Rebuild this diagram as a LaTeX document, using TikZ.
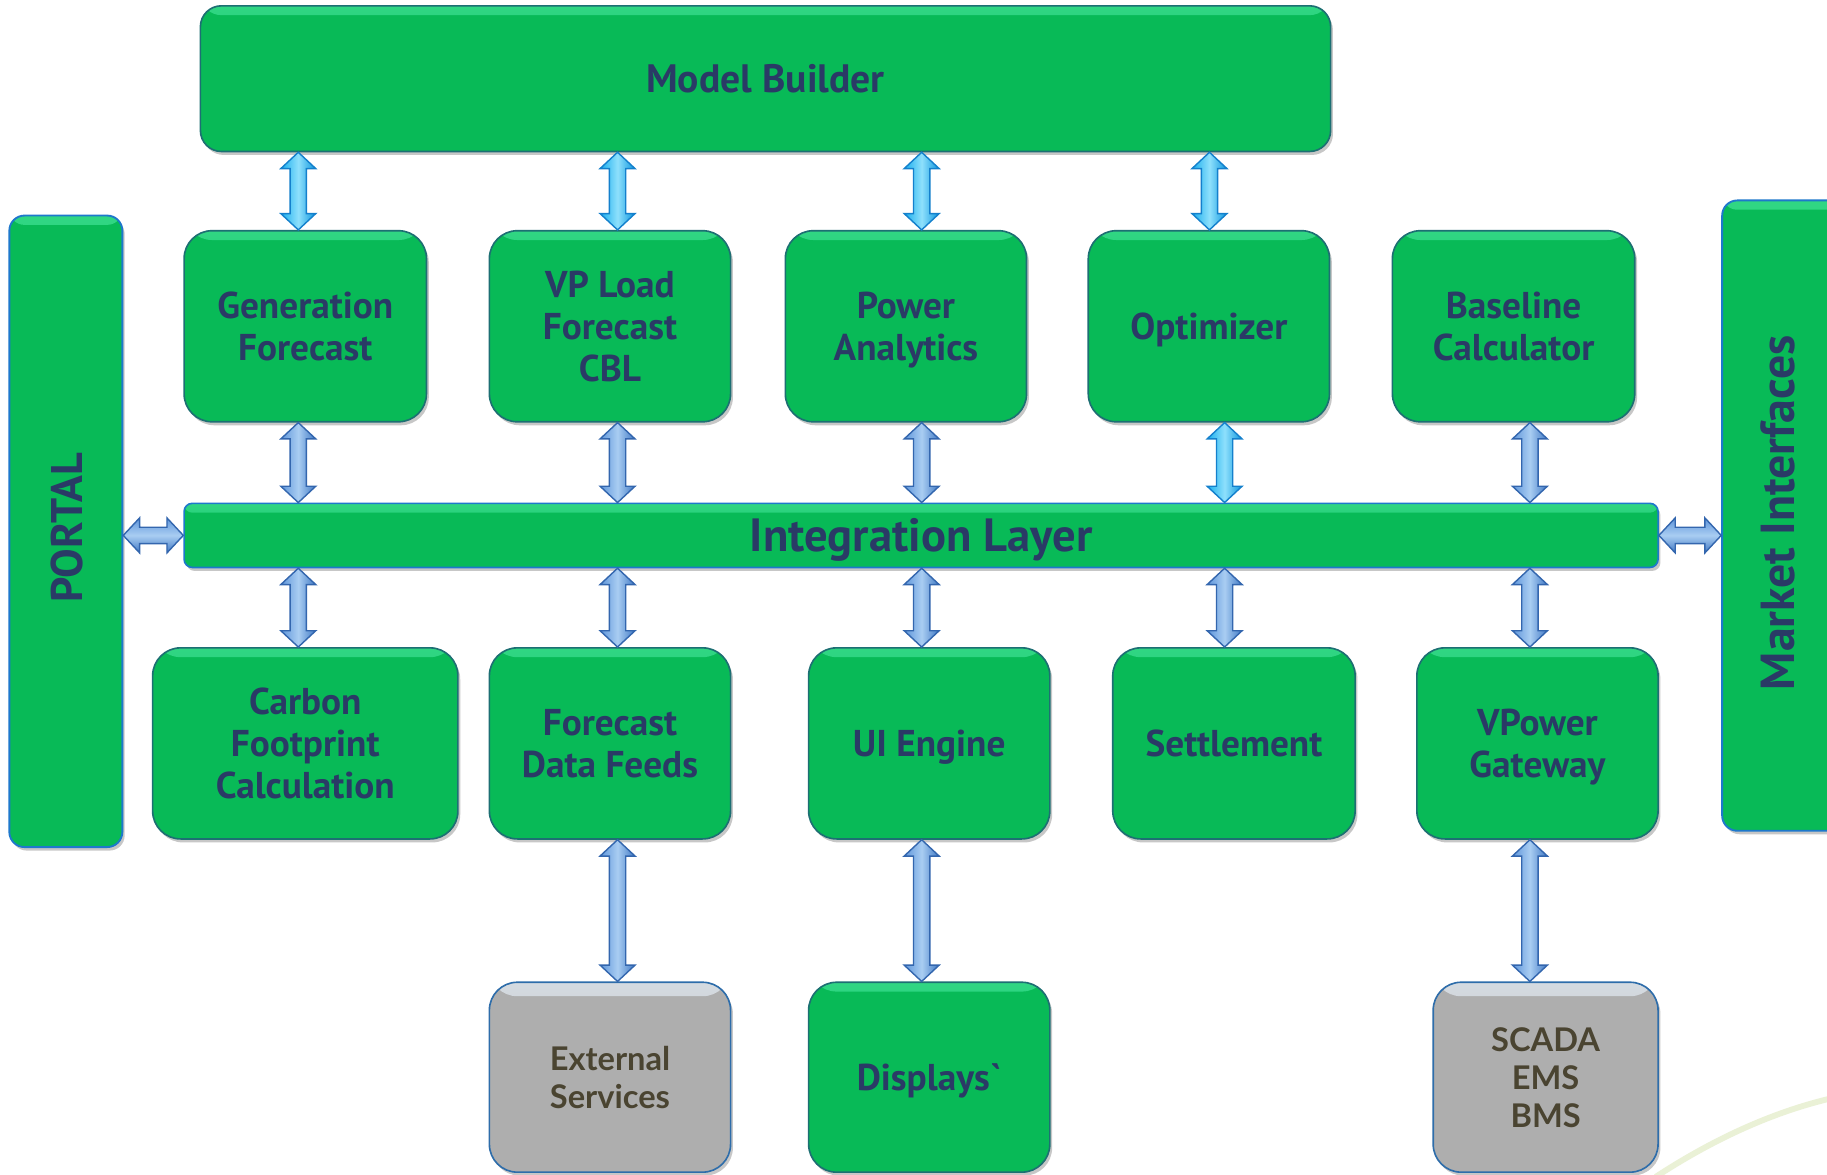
\documentclass[tikz,border=0pt]{standalone}
\usepackage{fontspec}
\usetikzlibrary{calc,shadows}
\newfontfamily\boxfont{PT Sans}
\newfontfamily\grayfont{Lato}
\definecolor{gfill}{HTML}{08BA57}
\definecolor{gborder}{HTML}{1D6F73}
\definecolor{ghl}{HTML}{30D683}
\definecolor{navy}{HTML}{2A3A66}
\definecolor{grayfill}{HTML}{AEAEAE}
\definecolor{grayborder}{HTML}{2E6DAA}
\definecolor{grayhl}{HTML}{D5DBE1}
\definecolor{graytext}{HTML}{4A4431}
\definecolor{sideborder}{HTML}{1E78CC}
\definecolor{cyanout}{HTML}{1480CC}
\definecolor{cyanL}{HTML}{19AEEE}
\definecolor{cyanM}{HTML}{8EE0FC}
\definecolor{cyanR}{HTML}{0C95DE}
\definecolor{blueout}{HTML}{3366AE}
\definecolor{blueL}{HTML}{5E95DA}
\definecolor{blueM}{HTML}{A9CDF2}
\definecolor{blueR}{HTML}{3F78C4}
\definecolor{swoosh}{HTML}{EAF1D6}
\tikzset{
  shadowed/.style={drop shadow={shadow xshift=2pt,shadow yshift=-3pt,fill=black,opacity=.22}},
  hlband/.style={path picture={\fill[top color=#1,bottom color=gfill]
      (path picture bounding box.north west) rectangle ([yshift=-8pt]path picture bounding box.north east);}},
  gbox/.style={rounded corners=24pt, minimum width=207pt, minimum height=164pt, inner sep=0pt,
      fill=gfill, draw=gborder, line width=1.4pt, shadowed, hlband=ghl, text depth=0pt,
      font=\boxfont\bfseries\fontsize{32}{36}\selectfont, text=navy, align=center},
  graybox/.style={rounded corners=24pt, minimum width=207pt, minimum height=163pt, inner sep=0pt,
      fill=grayfill, draw=grayborder, line width=1.4pt, shadowed, text depth=0pt,
      path picture={\fill[top color=grayhl,bottom color=grayfill]
      (path picture bounding box.north west) rectangle ([yshift=-12pt]path picture bounding box.north east);},
      font=\grayfont\bfseries\fontsize{28}{32.5}\selectfont, text=graytext, align=center},
  sidebox/.style={rounded corners=13pt, inner sep=0pt, fill=gfill, draw=sideborder,
      line width=1.6pt, shadowed, hlband=ghl},
  sidetext/.style={rotate=90, text=navy, text depth=0pt},
  varrow/.style={to path={let \p1=(\tikztostart),\p2=(\tikztotarget) in
      (\x1,\y1) -- (\x1+15pt,\y1-14pt) -- (\x1+7pt,\y1-14pt) -- (\x1+7pt,\y2+14pt)
      -- (\x1+15pt,\y2+14pt) -- (\x1,\y2) -- (\x1-15pt,\y2+14pt) -- (\x1-7pt,\y2+14pt)
      -- (\x1-7pt,\y1-14pt) -- (\x1-15pt,\y1-14pt) -- cycle}},
  harrow/.style={to path={let \p1=(\tikztostart),\p2=(\tikztotarget) in
      (\x1,\y1) -- (\x1+14pt,\y1+15pt) -- (\x1+14pt,\y1+7pt) -- (\x2-14pt,\y1+7pt)
      -- (\x2-14pt,\y1+15pt) -- (\x2,\y1) -- (\x2-14pt,\y1-15pt) -- (\x2-14pt,\y1-7pt)
      -- (\x1+14pt,\y1-7pt) -- (\x1+14pt,\y1-15pt) -- cycle}},
  cyanarr/.style={varrow, draw=cyanout, line width=1.2pt, left color=cyanL, right color=cyanR, middle color=cyanM},
  bluearr/.style={varrow, draw=blueout, line width=1.2pt, left color=blueL, right color=blueR, middle color=blueM},
  bluearrh/.style={harrow, draw=blueout, line width=1.2pt, top color=blueL, bottom color=blueR, middle color=blueM},
}
\begin{document}
\begin{tikzpicture}[x=1pt,y=-1pt]
\useasboundingbox (0,0) rectangle (1568,1008);
\fill[white] (0,0) rectangle (1568,1008);
% background swoosh
\draw[swoosh, line width=5pt] (1421,1010) .. controls (1470,978) and (1520,955) .. (1570,943);

% Model Builder
\node[gbox, rounded corners=18pt, minimum width=970pt, minimum height=125pt, font=\boxfont\bfseries\fontsize{34}{36}\selectfont] (mb) at (657,67.5) {Model Builder};

% side boxes
\node[sidebox, minimum width=97pt, minimum height=542pt] (portal) at (56.5,456) {};
\node[sidetext, font=\boxfont\bfseries\fontsize{38}{40}\selectfont] (portaltext) at (57,453) {PORTAL};
\node[sidebox, minimum width=140pt, minimum height=541pt] (market) at (1548,442.5) {};
\node[sidetext, font=\boxfont\bfseries\fontsize{41}{44}\selectfont] (markettext) at (1526,440) {Market Interfaces};

% row 1
\node[gbox, minimum width=208pt] (gen) at (262,280) {Generation\\Forecast};
\node[gbox] (vp) at (523.5,280) {VP Load\\Forecast\\CBL};
\node[gbox] (pa) at (777.5,280) {Power\\Analytics};
\node[gbox] (opt) at (1037.5,280) {Optimizer};
\node[gbox, minimum width=208pt] (bc) at (1299,280) {Baseline\\Calculator};

% integration layer
\node[gbox, rounded corners=7pt, minimum width=1265pt, minimum height=55pt,
      font=\boxfont\bfseries\fontsize{40}{40}\selectfont, draw=sideborder] (il) at (790.5,459.5) {Integration Layer};

% row 2
\node[gbox, minimum width=262pt] (carb) at (262,638) {Carbon\\Footprint\\Calculation};
\node[gbox] (fdf) at (523.5,638) {Forecast\\Data Feeds};
\node[gbox] (ui) at (797.5,638) {UI Engine};
\node[gbox, minimum width=208pt] (set) at (1059,638) {Settlement};
\node[gbox] (vpg) at (1319.5,638) {VPower\\Gateway};

% row 3
\node[graybox] (ext) at (523.5,924.5) {External\\Services};
\node[gbox, minimum height=163pt] (disp) at (797.5,924.5) {Displays\textasciigrave};
\node[graybox, minimum width=193pt] (scada) at (1326.5,924.5) {SCADA\\EMS\\BMS};

% arrows: Model Builder <-> row 1
\path[cyanarr] ($(gen.north |- mb.south)+(-6,0)$) to ($(gen.north)+(-6,0)$);
\path[cyanarr] ($(vp.north |- mb.south)+(6.5,0)$) to ($(vp.north)+(6.5,0)$);
\path[cyanarr] ($(pa.north |- mb.south)+(13.5,0)$) to ($(pa.north)+(13.5,0)$);
\path[cyanarr] ($(opt.north |- mb.south)+(0.5,0)$) to ($(opt.north)+(0.5,0)$);

% row 1 <-> integration layer
\path[bluearr] ($(gen.south)+(-6,0)$) to ($(gen.south |- il.north)+(-6,0)$);
\path[bluearr] ($(vp.south)+(6.5,0)$) to ($(vp.south |- il.north)+(6.5,0)$);
\path[bluearr] ($(pa.south)+(13.5,0)$) to ($(pa.south |- il.north)+(13.5,0)$);
\path[cyanarr] ($(opt.south)+(13.5,0)$) to ($(opt.south |- il.north)+(13.5,0)$);
\path[bluearr] ($(bc.south)+(14,0)$) to ($(bc.south |- il.north)+(14,0)$);

% integration layer <-> row 2
\path[bluearr] ($(carb.north |- il.south)+(-6,0)$) to ($(carb.north)+(-6,0)$);
\path[bluearr] ($(fdf.north |- il.south)+(6.5,0)$) to ($(fdf.north)+(6.5,0)$);
\path[bluearr] ($(ui.north |- il.south)+(-6.5,0)$) to ($(ui.north)+(-6.5,0)$);
\path[bluearr] ($(set.north |- il.south)+(-8,0)$) to ($(set.north)+(-8,0)$);
\path[bluearr] ($(vpg.north |- il.south)+(-6.5,0)$) to ($(vpg.north)+(-6.5,0)$);

% row 2 <-> row 3
\path[bluearr] ($(fdf.south)+(6.5,0)$) to ($(ext.north)+(6.5,0)$);
\path[bluearr] ($(ui.south)+(-6.5,0)$) to ($(disp.north)+(-6.5,0)$);
\path[bluearr] ($(vpg.south)+(-6.5,0)$) to ($(vpg.south |- scada.north)+(-6.5,0)$);

% side arrows
\path[bluearrh] (portal.east |- il.west) to (il.west);
\path[bluearrh] (il.east) to (il.east -| market.west);
\end{tikzpicture}
\end{document}
